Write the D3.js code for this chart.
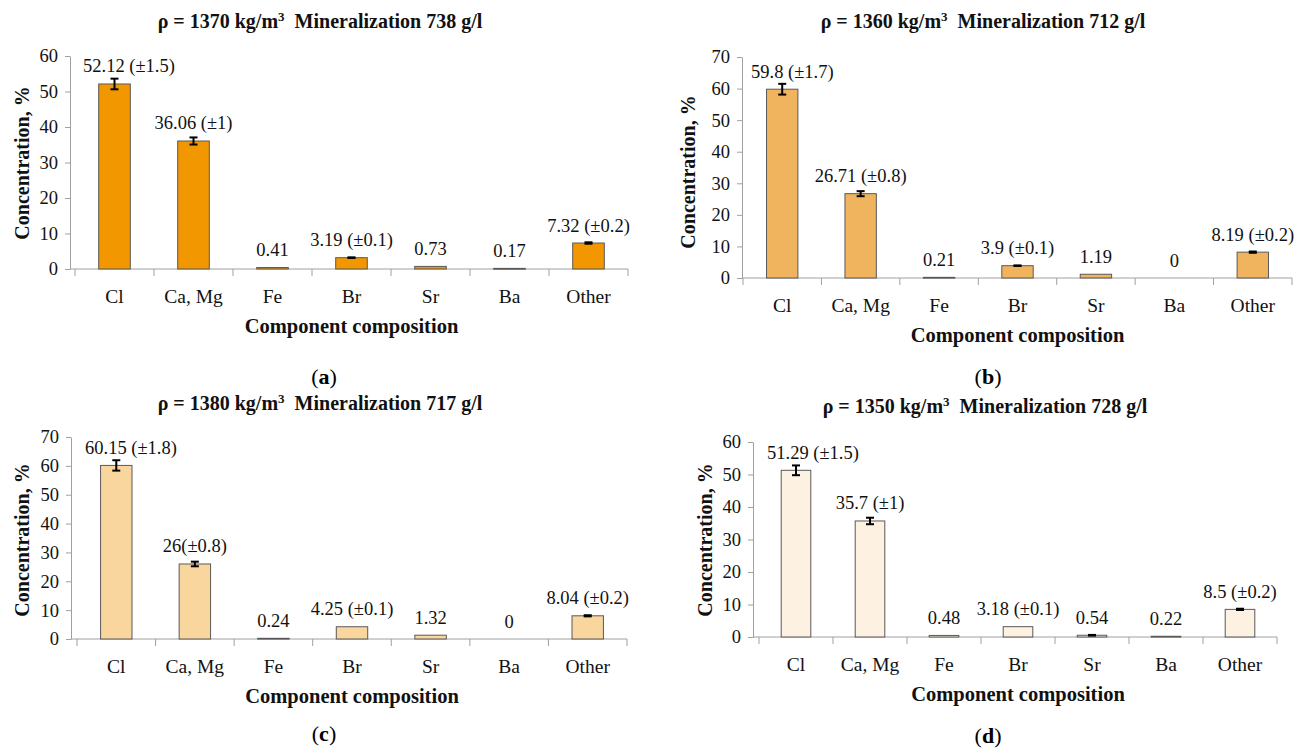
<!DOCTYPE html>
<html>
<head>
<meta charset="utf-8">
<script src="https://cdn.jsdelivr.net/npm/d3@7"></script>
<style>
  body { margin: 0; background: #fff; }
  svg text { font-family: "Liberation Serif", "Times New Roman", serif; white-space: pre; }
</style>
</head>
<body>
<svg id="chart" width="1307" height="749"></svg>
<script>
// data
const categories = ["Cl", "Ca, Mg", "Fe", "Br", "Sr", "Ba", "Other"];

const valuesA = [52.12, 36.06, 0.41, 3.19, 0.73, 0.17, 7.32];
const errorsA = [1.5, 1, null, 0.1, null, null, 0.2];
const labelsA = ["52.12 (±1.5)", "36.06 (±1)", "0.41", "3.19 (±0.1)", "0.73", "0.17", "7.32 (±0.2)"];

const valuesB = [59.8, 26.71, 0.21, 3.9, 1.19, 0, 8.19];
const errorsB = [1.7, 0.8, null, 0.1, null, null, 0.2];
const labelsB = ["59.8 (±1.7)", "26.71 (±0.8)", "0.21", "3.9 (±0.1)", "1.19", "0", "8.19 (±0.2)"];

const valuesC = [60.15, 26, 0.24, 4.25, 1.32, 0, 8.04];
const errorsC = [1.8, 0.8, null, null, null, null, 0.2];
const labelsC = ["60.15 (±1.8)", "26(±0.8)", "0.24", "4.25 (±0.1)", "1.32", "0", "8.04 (±0.2)"];

const valuesD = [51.29, 35.7, 0.48, 3.18, 0.54, 0.22, 8.5];
const errorsD = [1.5, 1, null, null, 0.1, null, 0.2];
const labelsD = ["51.29 (±1.5)", "35.7 (±1)", "0.48", "3.18 (±0.1)", "0.54", "0.22", "8.5 (±0.2)"];

const yTicks60 = [0, 10, 20, 30, 40, 50, 60];
const yTicks70 = [0, 10, 20, 30, 40, 50, 60, 70];

const densities = [1370, 1360, 1380, 1350];
const mineralization = [738, 712, 717, 728];
const panelLetters = ["a", "b", "c", "d"];

const yTitle = "Concentration, %";
const xTitle = "Component composition";

// layout of the four panels (pixels)
const panels = [
  { values: valuesA, errors: errorsA, labels: labelsA, ticks: yTicks60, fill: "#f39700",
    axisX: 70, x0: 75, x1: 628, y0: 269, yTop: 56, titleX: 320, titleY: 28, yTitleX: 22, yTitleY: 163, letterX: 324, letterY: 384 },
  { values: valuesB, errors: errorsB, labels: labelsB, ticks: yTicks70, fill: "#f0b45e",
    axisX: 742, x0: 743, x1: 1292, y0: 278, yTop: 57, titleX: 983, titleY: 28, yTitleX: 688, yTitleY: 172, letterX: 988, letterY: 384 },
  { values: valuesC, errors: errorsC, labels: labelsC, ticks: yTicks70, fill: "#fad69f",
    axisX: 71, x0: 77, x1: 627, y0: 639, yTop: 437, titleX: 320, titleY: 410, yTitleX: 22, yTitleY: 540, letterX: 324, letterY: 741 },
  { values: valuesD, errors: errorsD, labels: labelsD, ticks: yTicks60, fill: "#fdf2e2",
    axisX: 753, x0: 759, x1: 1277, y0: 637, yTop: 442, titleX: 985, titleY: 413, yTitleX: 705, yTitleY: 540, letterX: 988, letterY: 743 }
];

const svg = d3.select("#chart");
const axisGrey = "#a0a0a0";
const textCol = "#111";

const drawPanel = (p, i) => {
  const g = svg.append("g").attr("class", "panel-" + panelLetters[i]);

  const x = d3.scaleBand().domain(categories).range([p.x0, p.x1]).padding(0);
  const y = d3.scaleLinear()
    .domain([0, d3.max(p.ticks)])
    .range([p.y0, p.yTop]);
  const barW = x.bandwidth() * 0.4;

  // title
  const title = g.append("text")
    .attr("x", p.titleX)
    .attr("y", p.titleY)
    .attr("text-anchor", "middle")
    .attr("font-size", 20)
    .attr("font-weight", "bold")
    .attr("fill", textCol);
  title.append("tspan").text("ρ = " + densities[i] + " kg/m");
  title.append("tspan").attr("font-size", 13).attr("dy", -7).text("3");
  title.append("tspan").attr("dy", 7).text("  Mineralization " + mineralization[i] + " g/l");

  // y axis
  const yAxis = g.append("g")
    .attr("transform", `translate(${p.axisX},0)`)
    .call(d3.axisLeft(y).tickValues(p.ticks).tickSize(5).tickSizeOuter(0).tickPadding(7));
  yAxis.select(".domain").attr("stroke", axisGrey);
  yAxis.selectAll(".tick line").attr("stroke", axisGrey);
  yAxis.selectAll(".tick text")
    .attr("font-family", "Liberation Serif")
    .attr("font-size", 18.5)
    .attr("fill", textCol);

  // x axis
  const xAxis = g.append("g")
    .attr("transform", `translate(0,${p.y0})`)
    .call(d3.axisBottom(x).tickSize(0).tickSizeOuter(0).tickPadding(20));
  xAxis.select(".domain").remove();
  xAxis.selectAll(".tick text")
    .attr("font-family", "Liberation Serif")
    .attr("font-size", 19.5)
    .attr("fill", textCol);
  g.append("line")
    .attr("x1", p.axisX)
    .attr("x2", p.x1)
    .attr("y1", p.y0)
    .attr("y2", p.y0)
    .attr("stroke", axisGrey);
  g.selectAll(".cat-tick")
    .data(categories.map((c) => x(c)).concat([p.x1]))
    .join("line")
    .attr("class", "cat-tick")
    .attr("x1", (d) => d)
    .attr("x2", (d) => d)
    .attr("y1", p.y0)
    .attr("y2", p.y0 + 7)
    .attr("stroke", axisGrey);

  // bars
  const rows = categories.map((c, k) => ({ c, v: p.values[k], e: p.errors[k], label: p.labels[k] }));
  g.selectAll(".bar")
    .data(rows.filter((d) => d.v > 0))
    .join("rect")
    .attr("class", "bar")
    .attr("x", (d) => x(d.c) + (x.bandwidth() - barW) / 2)
    .attr("y", (d) => y(d.v))
    .attr("width", barW)
    .attr("height", (d) => Math.max(y(0) - y(d.v), 0.8))
    .attr("fill", p.fill)
    .attr("stroke", "#595959")
    .attr("stroke-width", 1);

  // error bars
  const errRows = rows.filter((d) => d.e != null);
  const cx = (d) => x(d.c) + x.bandwidth() / 2;
  g.selectAll(".err")
    .data(errRows)
    .join("line")
    .attr("class", "err")
    .attr("x1", cx)
    .attr("x2", cx)
    .attr("y1", (d) => y(d.v + d.e))
    .attr("y2", (d) => y(d.v - d.e))
    .attr("stroke", "#000")
    .attr("stroke-width", 2);
  ["top", "bot"].forEach((side) => {
    g.selectAll(".cap-" + side)
      .data(errRows)
      .join("line")
      .attr("class", "cap-" + side)
      .attr("x1", (d) => cx(d) - 4)
      .attr("x2", (d) => cx(d) + 4)
      .attr("y1", (d) => y(side === "top" ? d.v + d.e : d.v - d.e))
      .attr("y2", (d) => y(side === "top" ? d.v + d.e : d.v - d.e))
      .attr("stroke", "#000")
      .attr("stroke-width", 2);
  });

  // data labels, kept inside the plot on the left
  g.selectAll(".val")
    .data(rows)
    .join("text")
    .attr("class", "val")
    .attr("y", (d) => y(d.v) - 11.5)
    .attr("text-anchor", "middle")
    .attr("font-size", 18.5)
    .attr("fill", textCol)
    .text((d) => d.label)
    .attr("x", function (d) {
      const w = this.getComputedTextLength();
      return Math.max(cx(d), p.x0 + 8 + w / 2);
    });

  // axis titles
  g.append("text")
    .attr("transform", `translate(${p.yTitleX},${p.yTitleY}) rotate(-90)`)
    .attr("text-anchor", "middle")
    .attr("dy", "0.35em")
    .attr("font-size", 20)
    .attr("font-weight", "bold")
    .attr("fill", textCol)
    .text(yTitle);
  g.append("text")
    .attr("x", (p.x0 + p.x1) / 2)
    .attr("y", p.y0 + 64)
    .attr("text-anchor", "middle")
    .attr("font-size", 20.5)
    .attr("font-weight", "bold")
    .attr("fill", textCol)
    .text(xTitle);

  // panel letter
  const letter = g.append("text")
    .attr("x", p.letterX)
    .attr("y", p.letterY)
    .attr("text-anchor", "middle")
    .attr("font-size", 22)
    .attr("fill", "#000");
  letter.append("tspan").text("(");
  letter.append("tspan").attr("font-weight", "bold").text(panelLetters[i]);
  letter.append("tspan").text(")");
};

panels.forEach(drawPanel);
</script>
</body>
</html>
